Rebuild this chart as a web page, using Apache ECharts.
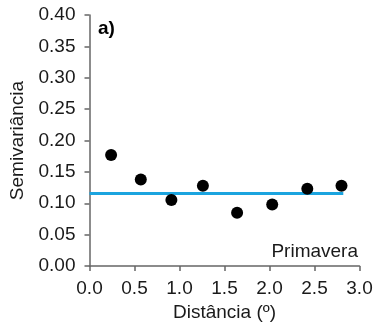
<!DOCTYPE html>
<html>
<head>
<meta charset="utf-8">
<script src="https://cdn.jsdelivr.net/npm/echarts@6/dist/echarts.min.js"></script>
<style>html,body{margin:0;padding:0;background:#fff}#c{width:374px;height:326px}</style>
</head>
<body>
<div id="c"></div>
<script>
var distances = [0.24, 0.57, 0.91, 1.26, 1.64, 2.03, 2.42, 2.80];
var semivariance = [0.177, 0.138, 0.105, 0.128, 0.085, 0.098, 0.123, 0.128];
var modelX = [0, 2.82];
var modelY = [0.1155, 0.1155];
var panelLabel = 'a)';
var seasonLabel = 'Primavera';
var xName = 'Distância (º)';
var yName = 'Semivariância';

var font = 'Liberation Sans, Arial, sans-serif';
var chart = echarts.init(document.getElementById('c'));
chart.setOption({
  animation: false,
  backgroundColor: '#fff',
  grid: { left: 89.5, right: 14.5, top: 15, bottom: 60, outerBoundsMode: 'none', containLabel: false },
  xAxis: {
    type: 'value', min: 0, max: 3, interval: 0.5,
    name: xName, nameLocation: 'middle', nameGap: 36,
    nameTextStyle: { fontFamily: font, fontSize: 19, color: '#1a1a1a' },
    axisLine: { lineStyle: { color: '#666', width: 1.5 } },
    axisTick: { show: true, length: 5, lineStyle: { color: '#666', width: 1.5 } },
    axisLabel: { fontFamily: font, fontSize: 19, color: '#1a1a1a', margin: 13,
      formatter: function (v) { return v.toFixed(1); } },
    splitLine: { show: false }
  },
  yAxis: {
    type: 'value', min: 0, max: 0.4, interval: 0.05,
    name: yName, nameLocation: 'middle', nameGap: 62, nameRotate: 90,
    nameTextStyle: { fontFamily: font, fontSize: 19, color: '#1a1a1a' },
    axisLine: { show: true, lineStyle: { color: '#666', width: 1.5 } },
    axisTick: { show: true, length: 5, lineStyle: { color: '#666', width: 1.5 } },
    axisLabel: { fontFamily: font, fontSize: 19, color: '#1a1a1a', margin: 14,
      formatter: function (v) { return v.toFixed(2); } },
    splitLine: { show: false }
  },
  series: [
    {
      type: 'line',
      data: modelX.map(function (x, i) { return [x, modelY[i]]; }),
      symbol: 'none',
      lineStyle: { color: '#1ba4df', width: 3 },
      z: 2
    },
    {
      type: 'scatter',
      data: distances.map(function (x, i) { return [x, semivariance[i]]; }),
      symbol: 'circle', symbolSize: 12,
      itemStyle: { color: '#000', opacity: 1 },
      z: 3
    }
  ],
  graphic: [
    { type: 'text', left: 98, top: 19,
      style: { text: panelLabel, font: 'bold 19px Liberation Sans, Arial, sans-serif', fill: '#000' } },
    { type: 'text', right: 16, top: 242,
      style: { text: seasonLabel, font: '19px Liberation Sans, Arial, sans-serif', fill: '#1a1a1a' } }
  ]
});
</script>
</body>
</html>
